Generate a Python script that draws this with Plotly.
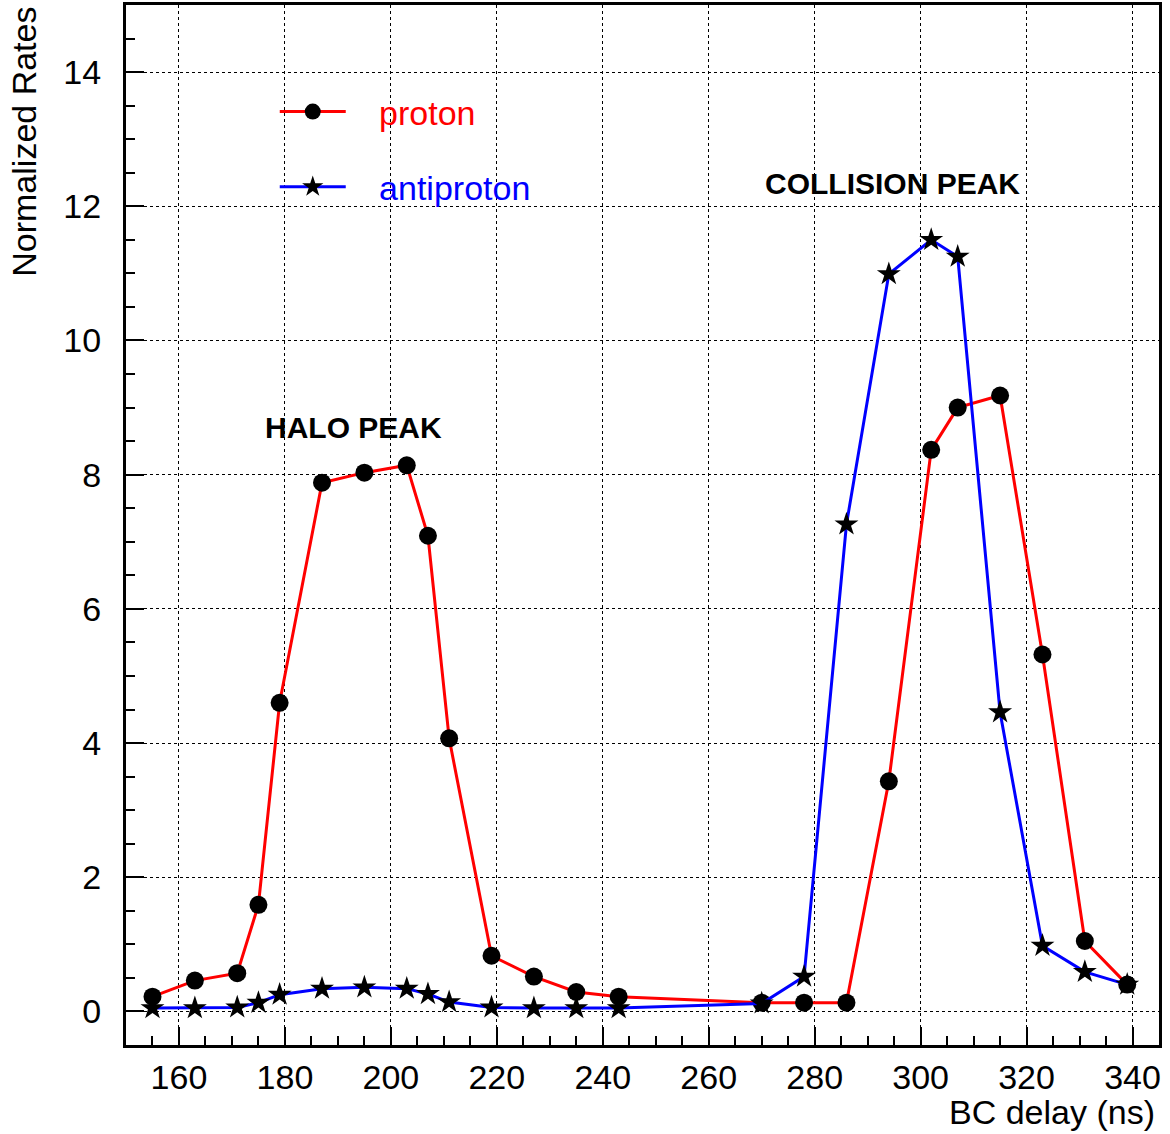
import plotly.graph_objects as go

# BC delay values (ns)
bc_delay = [155, 163, 171, 175, 179, 187, 195, 203, 207, 211, 219, 227, 235, 243,
            270, 278, 286, 294, 302, 307, 315, 323, 331, 339]
proton = [0.22, 0.46, 0.57, 1.59, 4.60, 7.88, 8.03, 8.14, 7.09, 4.07, 0.83, 0.52,
          0.29, 0.22, 0.13, 0.13, 0.13, 3.43, 8.37, 9.00, 9.18, 5.32, 1.05, 0.40]
antiproton = [0.05, 0.05, 0.06, 0.13, 0.25, 0.34, 0.36, 0.34, 0.26, 0.14, 0.06, 0.05,
              0.05, 0.05, 0.12, 0.52, 7.26, 10.99, 11.50, 11.25, 4.46, 0.98, 0.59, 0.40]

x_ticks = [160, 180, 200, 220, 240, 260, 280, 300, 320, 340]
y_ticks = [0, 2, 4, 6, 8, 10, 12, 14]

FONT = "Liberation Sans, Arial, Helvetica, sans-serif"
SP = "&nbsp;&nbsp;&nbsp;"

fig = go.Figure()
fig.add_trace(go.Scatter(
    x=bc_delay, y=proton, mode="lines+markers",
    name=SP + "<span style='color:#ff0000'>proton</span>",
    line=dict(color="#ff0000", width=3),
    marker=dict(symbol="circle", size=18, color="black"),
    legendgroup="p",
))
fig.add_trace(go.Scatter(
    x=bc_delay, y=antiproton, mode="lines+markers",
    name=SP + "<span style='color:#0000ff'>antiproton</span>",
    line=dict(color="#0000ff", width=3),
    marker=dict(symbol="star", size=18, color="black"),
    legendgroup="a",
))

fig.add_annotation(x=193, y=8.70, xref="x", yref="y", text="<b>HALO PEAK</b>",
                   showarrow=False, font=dict(family=FONT, size=30, color="black"))
fig.add_annotation(x=294.6, y=12.34, xref="x", yref="y", text="<b>COLLISION PEAK</b>",
                   showarrow=False, font=dict(family=FONT, size=30, color="black"))

fig.add_annotation(x=0.998, y=-0.0644, xref="paper", yref="paper", text="BC delay (ns)",
                   showarrow=False, xanchor="right", yanchor="middle",
                   font=dict(family=FONT, size=34, color="black"))
fig.add_annotation(x=-0.099, y=1.0, xref="paper", yref="paper", text="Normalized Rates",
                   showarrow=False, xanchor="center", yanchor="top", textangle=-90,
                   font=dict(family=FONT, size=34, color="black"))

axis_common = dict(
    showline=True, linecolor="black", linewidth=3, mirror=True,
    ticks="inside", tickcolor="black", tickwidth=1.5, ticklen=18,
    showgrid=True, gridcolor="black", gridwidth=1, griddash="3px,3px",
    zeroline=False, automargin=False,
    tickfont=dict(family=FONT, size=34, color="black"),
)

fig.update_xaxes(range=[150, 345], tickvals=x_ticks,
                 minor=dict(ticks="inside", dtick=5, ticklen=9, tickcolor="black", tickwidth=1.5, showgrid=False),
                 ticklabelstandoff=0, **axis_common)
fig.update_yaxes(range=[-0.5, 15], tickvals=y_ticks,
                 minor=dict(ticks="inside", dtick=0.5, ticklen=9, tickcolor="black", tickwidth=1.5, showgrid=False),
                 ticklabelstandoff=15, **axis_common)

fig.update_layout(
    width=1170, height=1134,
    margin=dict(l=126, r=11, t=5, b=89, autoexpand=False),
    paper_bgcolor="white", plot_bgcolor="white",
    font=dict(family=FONT, size=34, color="black"),
    legend=dict(x=0.144, y=0.925, xanchor="left", yanchor="top",
                bgcolor="rgba(0,0,0,0)", borderwidth=0,
                font=dict(family=FONT, size=34),
                itemwidth=66, tracegroupgap=28, itemsizing="trace"),
    showlegend=True,
)

fig.write_html("out.html", config={"displayModeBar": False},
               post_script="document.body.style.margin='0px';document.body.style.padding='0px';")
